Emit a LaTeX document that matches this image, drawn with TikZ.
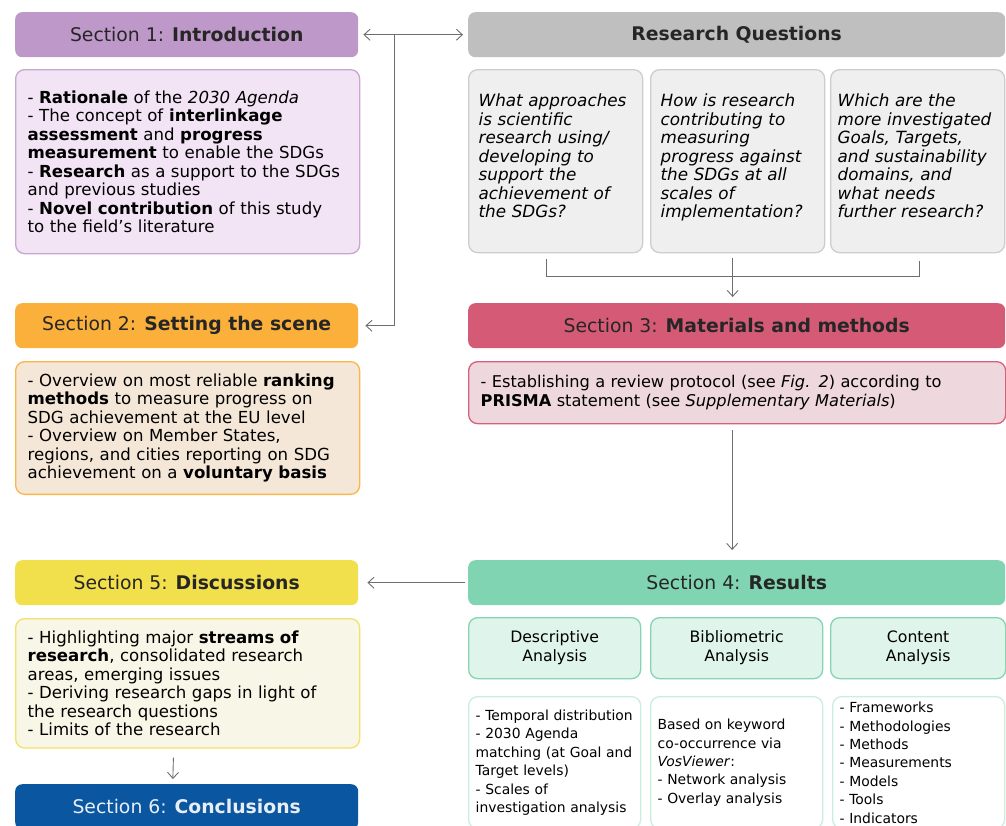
\documentclass[tikz,border=0pt]{standalone}
\usepackage{fontspec}
\setmainfont{DejaVu Sans}
\usetikzlibrary{positioning,arrows.meta}

\newcommand\tightlines{\lineskiplimit=-20pt\relax}

\definecolor{introH}{HTML}{BE98C9}
\definecolor{introL}{HTML}{F2E3F5}
\definecolor{introB}{HTML}{C7A6D0}
\definecolor{rqH}{HTML}{BFBFBF}
\definecolor{rqL}{HTML}{EFEFEF}
\definecolor{rqB}{HTML}{CDCDCD}
\definecolor{sceneH}{HTML}{FBB03B}
\definecolor{sceneL}{HTML}{F4E7D8}
\definecolor{sceneB}{HTML}{FBB549}
\definecolor{methH}{HTML}{D45A76}
\definecolor{methL}{HTML}{EED7DD}
\definecolor{methB}{HTML}{D8607B}
\definecolor{resH}{HTML}{80D4B1}
\definecolor{resL}{HTML}{DFF4EA}
\definecolor{resB}{HTML}{86D5B2}
\definecolor{resW}{HTML}{C9EEDE}
\definecolor{discH}{HTML}{F2DF4C}
\definecolor{discL}{HTML}{F8F6E6}
\definecolor{discB}{HTML}{F2E16A}
\definecolor{concH}{HTML}{0B56A0}
\definecolor{linkC}{HTML}{6E6E6E}

\tikzset{
    head/.style={rounded corners=7pt, minimum height=45pt, anchor=north west,
        align=center, inner sep=0pt, text=black!85,
        font=\fontsize{18.8}{22}\selectfont},
    textbox/.style={rounded corners=9pt, draw, line width=1.3pt,
        anchor=north west, align=left, inner sep=12pt,
        font=\fontsize{16.6}{18.5}\selectfont\tightlines},
    question/.style={textbox, fill=rqL, draw=rqB, inner xsep=10pt,
        text width=154pt, minimum height=183pt,
        font=\fontsize{16.8}{18.5}\selectfont\tightlines\itshape},
    subhead/.style={rounded corners=9pt, draw=resB, fill=resL, line width=1.3pt,
        anchor=north west, align=center, minimum height=61pt,
        font=\fontsize{15.7}{19}\selectfont},
    detail/.style={rounded corners=9pt, draw=resW, line width=1.3pt,
        anchor=north west, align=left, inner xsep=7pt, text width=158pt,
        minimum height=132pt,
        font=\fontsize{13.9}{18.4}\selectfont\tightlines},
    link/.style={draw=linkC, line width=0.9pt},
    tip/.style={-{Straight Barb[length=6pt,width=11pt]}},
    tips/.style={{Straight Barb[length=6pt,width=11pt]}-{Straight Barb[length=6pt,width=11pt]}},
}

\begin{document}
\begin{tikzpicture}[x=1pt, y=-1pt]
    \useasboundingbox (0,0) rectangle (1006,825);
    \clip (0,0) rectangle (1006,825);

    % left column: sections 1, 2, 5, 6
    \node[head, fill=introH, minimum width=343pt] (s1) at (15,12)
        {Section 1: \textbf{Introduction}};
    \node[textbox, fill=introL, draw=introB, text width=320pt,
        minimum height=184pt] (s1b) at (15,69)
        {- \textbf{Rationale} of the \textit{2030 Agenda}\\
         - The concept of \textbf{interlinkage}\\
         \textbf{assessment} and \textbf{progress}\\
         \textbf{measurement} to enable the SDGs\\
         - \textbf{Research} as a support to the SDGs\\
         and previous studies\\
         - \textbf{Novel contribution} of this study\\
         to the field's literature};

    \node[head, fill=sceneH, minimum width=343pt] (s2) at (15,303)
        {Section 2: \textbf{Setting the scene}};
    \node[textbox, fill=sceneL, draw=sceneB, text width=320pt,
        minimum height=127pt] (s2b) at (15,361)
        {- Overview on most reliable \textbf{ranking}\\
         \textbf{methods} to measure progress on\\
         SDG achievement at the EU level\\
         - Overview on Member States,\\
         regions, and cities reporting on SDG\\
         achievement on a \textbf{voluntary basis}};

    \node[head, fill=discH, minimum width=343pt] (s5) at (15,560)
        {Section 5: \textbf{Discussions}};
    \node[textbox, fill=discL, draw=discB, text width=320pt,
        minimum height=129pt] (s5b) at (15,618)
        {- Highlighting major \textbf{streams of}\\
         \textbf{research}, consolidated research\\
         areas, emerging issues\\
         - Deriving research gaps in light of\\
         the research questions\\
         - Limits of the research};

    \node[head, fill=concH, minimum width=343pt, text=white!90!concH] (s6) at (15,784)
        {Section 6: \textbf{Conclusions}};

    % right column: research questions, sections 3 and 4
    \node[head, fill=rqH, minimum width=537pt] (rq) at (468,12)
        {\textbf{Research Questions}};
    \node[question] (rq1) at (468,69)
        {What approaches\\ is scientific\\ research using/\\ developing to\\
         support the\\ achievement of\\ the SDGs?\\[-8pt]\mbox{}};
    \node[question] (rq2) at (650,69)
        {How is research\\ contributing to\\ measuring\\ progress against\\
         the SDGs at all\\ scales of\\ implementation?\\[-8pt]\mbox{}};
    \node[question, inner xsep=7pt, text width=160pt] (rq3) at (830,69)
        {Which are the\\ more investigated\\ Goals, Targets,\\
         and sustainability\\ domains, and\\ what needs\\ further research?\\[-8pt]\mbox{}};

    \node[head, fill=methH, minimum width=537pt] (s3) at (468,303)
        {Section 3: \textbf{Materials and methods}};
    \node[textbox, fill=methL, draw=methB, text width=513pt,
        minimum height=62pt, font=\fontsize{16.2}{18.5}\selectfont] (s3b) at (468,361)
        {- Establishing a review protocol (see \textit{Fig. 2}) according to\\
         \textbf{PRISMA} statement (see \textit{Supplementary Materials})};

    \node[head, fill=resH, minimum width=537pt] (s4) at (468,560)
        {Section 4: \textbf{Results}};
    \node[subhead, minimum width=172pt] (desc) at (468,617)
        {Descriptive\\ Analysis};
    \node[subhead, minimum width=172pt] (biblio) at (650,617)
        {Bibliometric\\ Analysis};
    \node[subhead, minimum width=175pt] (content) at (830,617)
        {Content\\ Analysis};
    \node[detail] (descb) at (468,696)
        {- Temporal distribution\\ - 2030 Agenda\\ matching (at Goal and\\
         Target levels)\\ - Scales of\\ investigation analysis};
    \node[detail] (bibliob) at (650,696)
        {Based on keyword\\ co-occurrence via\\ \textit{VosViewer}:\\
         - Network analysis\\ - Overlay analysis};
    \node[detail] (contentb) at (832,696)
        {- Frameworks\\ - Methodologies\\ - Methods\\ - Measurements\\
         - Models\\ - Tools\\ - Indicators};

    % connectors
    \draw[link, tips, shorten <=5pt, shorten >=5pt] (s1.east) -- (rq.west);
    \path (s1.east) ++(36,0) coordinate (split);
    \draw[link, tip, shorten >=7pt] (split) |- (s2.east);

    \draw[link] ([xshift=-9pt, yshift=-6pt]rq1.south) -- ([xshift=-9pt, yshift=-23pt]rq1.south)
        -- ([xshift=2pt, yshift=-23pt]rq3.south) -- ([xshift=2pt, yshift=-8pt]rq3.south);
    \draw[link, tip, shorten >=6pt] ([xshift=-5pt, yshift=-5pt]rq2.south)
        -- ([xshift=-5pt]rq2.south |- s3.north);

    \draw[link, tip, shorten >=10pt] ([xshift=-5pt, yshift=-6pt]s3b.south)
        -- ([xshift=-5pt]s3b.south |- s4.north);
    \draw[link, tip, shorten <=3pt, shorten >=9pt] (s4.west) -- (s5.east);
    \draw[link, tip, shorten <=9pt, shorten >=5pt] ([xshift=-14pt]s5b.south)
        -- ([xshift=-14pt]s6.north);
\end{tikzpicture}
\end{document}
